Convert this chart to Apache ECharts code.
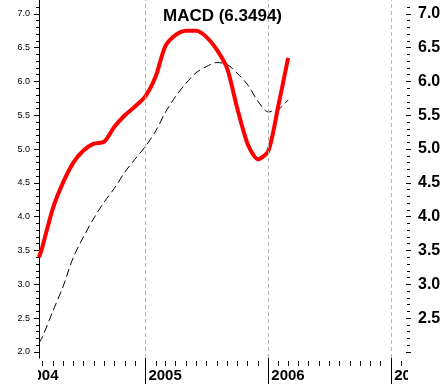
<!DOCTYPE html>
<html><head><meta charset="utf-8">
<script src="https://cdn.jsdelivr.net/npm/echarts@6/dist/echarts.min.js"></script>
<style>html,body{margin:0;padding:0;background:#fff}#c{width:445px;height:385px}</style>
</head><body><div id="c"></div>
<script>
// ---- data ----
const dates = ['2004-02-20','2004-03-01','2004-04-01','2004-05-01','2004-06-01','2004-07-01','2004-08-01','2004-09-01','2004-10-01','2004-11-01','2004-12-01',
  '2005-01-01','2005-02-01','2005-03-01','2005-04-01','2005-05-01','2005-06-01','2005-07-01','2005-08-01','2005-09-01','2005-10-01','2005-11-01','2005-12-01',
  '2006-01-01','2006-02-01','2006-03-01'];
const macd = [3.40,3.55,4.12,4.50,4.80,4.98,5.08,5.11,5.33,5.50,5.63,
  5.78,6.08,6.52,6.69,6.75,6.75,6.66,6.47,6.19,5.60,5.07,4.85,
  4.97,5.67,6.35];
const signal = [2.13,2.22,2.60,2.96,3.40,3.70,3.98,4.22,4.42,4.66,4.85,
  5.04,5.27,5.54,5.78,5.97,6.13,6.22,6.28,6.25,6.12,5.95,5.71,
  5.55,5.59,5.73];
const yearLabels = ['2004','2005','2006','2007'];
const leftLabels = [2.0,2.5,3.0,3.5,4.0,4.5,5.0,5.5,6.0,6.5,7.0];
const rightLabels = [2.5,3.0,3.5,4.0,4.5,5.0,5.5,6.0,6.5,7.0];
const titleText = 'MACD (6.3494)';

// ---- helpers ----
const t = s => { const p = s.split('-').map(Number); return Date.UTC(p[0], p[1]-1, p[2]); };
const xMin = t('2004-02-20'), xMax = t('2007-02-17');
const yMin = 1.91, yMax = 7.205;
const yearVals = yearLabels.slice(1).map(y => t(y + '-01-01'));
const monthVals = [];
for (let y = 2004; y <= 2007; y++) for (let m = 1; m < 12; m++) {
  const v = Date.UTC(y, m, 1); if (v > xMin && v < xMax) monthVals.push(v);
}
const minorY = [];
for (let i = 20; i <= 71; i++) minorY.push(i / 10);
const FONT = 'Liberation Sans, Arial, sans-serif';

const chart = echarts.init(document.getElementById('c'), null, {renderer: 'canvas'});
const option = {
  animation: false,
  backgroundColor: '#fff',
  title: {text: titleText, left: 'center', top: 3,
    textStyle: {fontFamily: FONT, fontSize: 17, fontWeight: 'bold', color: '#000'}},
  grid: {left: 39, right: 38, top: -2, bottom: 27, containLabel: false},
  xAxis: [
    {type: 'value', min: xMin, max: xMax, position: 'bottom', scale: true,
      axisLine: {show: false}, splitLine: {show: false},
      axisTick: {show: true, customValues: yearVals, length: 26, lineStyle: {color: '#000', width: 1}},
      axisLabel: {show: true, customValues: yearVals, align: 'left', margin: 10, padding: [0,0,0,3],
        fontFamily: FONT, fontSize: 15, fontWeight: 'bold', color: '#000',
        formatter: v => String(new Date(v).getUTCFullYear())}},
    {type: 'value', min: xMin, max: xMax, position: 'bottom', offset: 3, scale: true,
      axisLine: {show: false}, splitLine: {show: false},
      axisTick: {show: true, customValues: monthVals, length: 5, lineStyle: {color: '#000', width: 1}},
      axisLabel: {show: false}}
  ],
  yAxis: [
    {type: 'value', min: yMin, max: yMax, position: 'left',
      axisLine: {show: true, lineStyle: {color: '#000', width: 1}}, splitLine: {show: false},
      axisTick: {show: true, customValues: leftLabels, length: 5, lineStyle: {color: '#000'}},
      axisLabel: {customValues: leftLabels, margin: 9, fontFamily: FONT, fontSize: 9, color: '#000',
        formatter: v => v.toFixed(1)}},
    {type: 'value', min: yMin, max: yMax, position: 'left',
      axisLine: {show: false}, splitLine: {show: false},
      axisTick: {show: true, customValues: minorY, length: 3, lineStyle: {color: '#000'}},
      axisLabel: {show: false}},
    {type: 'value', min: yMin, max: yMax, position: 'right', offset: -1,
      axisLine: {show: false}, splitLine: {show: false},
      axisTick: {show: true, customValues: [2.0].concat(rightLabels), length: 5, lineStyle: {color: '#000'}},
      axisLabel: {customValues: rightLabels, margin: 12, fontFamily: FONT, fontSize: 16, fontWeight: 'bold', color: '#000',
        formatter: v => v.toFixed(1)}},
    {type: 'value', min: yMin, max: yMax, position: 'right', offset: 0,
      axisLine: {show: false}, splitLine: {show: false},
      axisTick: {show: true, customValues: minorY, length: 3, lineStyle: {color: '#000'}},
      axisLabel: {show: false}}
  ],
  series: [
    {type: 'line', name: 'Signal', xAxisIndex: 0, yAxisIndex: 0, showSymbol: false, symbol: 'none', smooth: 0.3,
      data: dates.map((d, i) => [t(d), signal[i]]),
      lineStyle: {color: '#000', width: 1, type: [8, 4]}, z: 3,
      markLine: {silent: true, symbol: ['none','none'], label: {show: false},
        lineStyle: {color: '#b4b4b4', width: 1, type: [4, 3]},
        data: yearVals.map(v => ({xAxis: v}))}},
    {type: 'line', name: 'MACD', xAxisIndex: 0, yAxisIndex: 0, showSymbol: false, symbol: 'none', smooth: 0.25,
      data: dates.map((d, i) => [t(d), macd[i]]),
      lineStyle: {color: '#ff0000', width: 4}, z: 4}
  ]
};
chart.setOption(option);
// year label left of the visible range ("2004"), clipped at the plot edge like the original
const p04 = chart.convertToPixel({xAxisIndex: 0}, t('2004-01-01'));
const pR = chart.convertToPixel({xAxisIndex: 0}, xMax);
const gridBottom = chart.convertToPixel({yAxisIndex: 0}, yMin);
chart.setOption({graphic: [
  {type: 'text', left: p04 + 3, top: gridBottom + 10, z: 10,
    style: {text: yearLabels[0], font: 'bold 15px ' + FONT, fill: '#000'}},
  {type: 'rect', shape: {x: 0, y: gridBottom + 2, width: 38, height: 40}, z: 20, style: {fill: '#fff'}},
  {type: 'rect', shape: {x: pR + 1, y: gridBottom + 2, width: 60, height: 40}, z: 20, style: {fill: '#fff'}}
]});
</script></body></html>
